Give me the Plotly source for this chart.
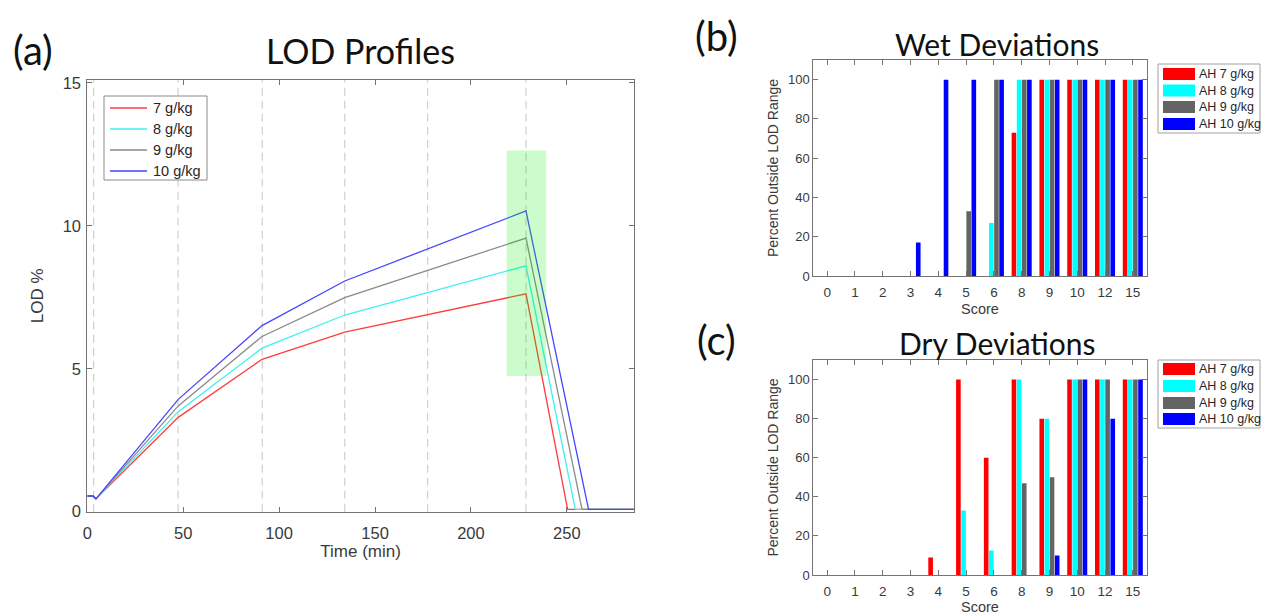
import plotly.graph_objects as go

# ---------------- data ----------------
# LOD profiles (time in minutes, LOD in %)
humidity = ["7 g/kg", "8 g/kg", "9 g/kg", "10 g/kg"]

time_7 = [0, 3, 4.5, 47.4, 91.1, 134.2, 228.7, 250.4, 285]
time_8 = [0, 3, 4.5, 47.4, 91.1, 134.2, 228.7, 254.4, 285]
time_9 = [0, 3, 4.5, 47.4, 91.1, 134.2, 228.7, 257.9, 285]
time_10 = [0, 3, 4.5, 47.4, 91.1, 134.2, 228.7, 261.3, 285]

lod_7 = [0.55, 0.55, 0.45, 3.30, 5.33, 6.28, 7.62, 0.08, 0.08]
lod_8 = [0.55, 0.55, 0.45, 3.50, 5.72, 6.88, 8.60, 0.08, 0.08]
lod_9 = [0.55, 0.55, 0.45, 3.70, 6.13, 7.49, 9.57, 0.08, 0.08]
lod_10 = [0.55, 0.55, 0.45, 3.93, 6.51, 8.07, 10.52, 0.08, 0.08]

# phase boundaries (dashed lines) and highlighted window
phase_times = [3.3, 47.3, 91.2, 134.2, 177.4, 228.7]
window_t = [218.6, 239.2]
window_lod = [4.75, 12.63]

# deviation scores
scores = ["0", "1", "2", "3", "4", "5", "6", "8", "9", "10", "12", "15"]
ah_labels = ["AH 7 g/kg", "AH 8 g/kg", "AH 9 g/kg", "AH 10 g/kg"]

wet_7 = [0, 0, 0, 0, 0, 0, 0, 73, 100, 100, 100, 100]
wet_8 = [0, 0, 0, 0, 0, 0, 27, 100, 100, 100, 100, 100]
wet_9 = [0, 0, 0, 0, 0, 33, 100, 100, 100, 100, 100, 100]
wet_10 = [0, 0, 0, 17, 100, 100, 100, 100, 100, 100, 100, 100]

dry_7 = [0, 0, 0, 0, 9, 100, 60, 100, 80, 100, 100, 100]
dry_8 = [0, 0, 0, 0, 0, 33, 12.5, 100, 80, 100, 100, 100]
dry_9 = [0, 0, 0, 0, 0, 0, 0, 47, 50, 100, 100, 100]
dry_10 = [0, 0, 0, 0, 0, 0, 0, 0, 10, 100, 80, 100]

# ---------------- styling ----------------
W, H = 1261, 615
line_colors = ["#ff3c3c", "#3cf0f0", "#8a8a8a", "#4646ff"]
bar_colors = ["#ff0000", "#00ffff", "#646464", "#0000ff"]
AXIS = "#737373"
TXT = "#3a3a3a"
SANS = "Liberation Sans, Arial, sans-serif"
TITLE_FONT = "Lato, Open Sans, sans-serif"


def px_x(p):
    return p / W


def px_y(p):
    return 1 - p / H


fig = go.Figure()

# LOD profile lines
for t, v, name, col in zip([time_7, time_8, time_9, time_10],
                           [lod_7, lod_8, lod_9, lod_10],
                           humidity, line_colors):
    fig.add_trace(go.Scatter(x=t, y=v, mode="lines", name=name,
                             line=dict(color=col, width=1.3),
                             xaxis="x", yaxis="y", showlegend=False))

# grouped bars: wet and dry deviations
for vals, name, col in zip([wet_7, wet_8, wet_9, wet_10], ah_labels, bar_colors):
    fig.add_trace(go.Bar(x=scores, y=vals, name=name, marker_color=col,
                         marker_line_width=0, xaxis="x2", yaxis="y2",
                         showlegend=False))
for vals, name, col in zip([dry_7, dry_8, dry_9, dry_10], ah_labels, bar_colors):
    fig.add_trace(go.Bar(x=scores, y=vals, name=name, marker_color=col,
                         marker_line_width=0, xaxis="x3", yaxis="y3",
                         showlegend=False))

shapes = []
# dashed phase lines
for t in phase_times:
    shapes.append(dict(type="line", xref="x", yref="y domain", x0=t, x1=t,
                       y0=0, y1=1, layer="below",
                       line=dict(color="#cfcfcf", width=1.2, dash="8px,5px")))
# highlighted window (semi-transparent, on top of the lines)
shapes.append(dict(type="rect", xref="x", yref="y",
                   x0=window_t[0], x1=window_t[1],
                   y0=window_lod[0], y1=window_lod[1],
                   fillcolor="rgba(0,240,0,0.2)", line=dict(width=0),
                   layer="above"))

annotations = []


def add_text(text, x, y, size, font=TITLE_FONT, color="#111111",
             xanchor="center"):
    annotations.append(dict(text=text, xref="paper", yref="paper",
                            x=px_x(x), y=px_y(y), showarrow=False,
                            xanchor=xanchor, yanchor="middle",
                            font=dict(family=font, size=size, color=color)))


add_text("(a)", 33, 50, 40)
add_text("LOD Profiles", 360, 50, 34)
add_text("(b)", 716, 36, 40)
add_text("Wet Deviations", 997, 44, 30)
add_text("(c)", 716, 340, 40)
add_text("Dry Deviations", 997, 343, 30)

# legend of the profile panel
shapes.append(dict(type="rect", xref="paper", yref="paper",
                   x0=px_x(104), x1=px_x(207), y0=px_y(180), y1=px_y(96),
                   fillcolor="white", line=dict(color="#8a8a8a", width=1),
                   layer="above"))
for ry, name, col in zip([108, 129, 150, 171], humidity, line_colors):
    shapes.append(dict(type="line", xref="paper", yref="paper",
                       x0=px_x(110), x1=px_x(147), y0=px_y(ry), y1=px_y(ry),
                       line=dict(color=col, width=1.3), layer="above"))
    add_text(name, 151, ry, 14.5, font=SANS, color="#262626", xanchor="left")

# bar legends
for top, bottom, rows in [(64, 133, [74, 90.5, 107, 124]),
                          (360, 428, [369, 386, 403, 419])]:
    shapes.append(dict(type="rect", xref="paper", yref="paper",
                       x0=px_x(1158), x1=px_x(1260), y0=px_y(bottom), y1=px_y(top),
                       fillcolor="white", line=dict(color="#a0a0a0", width=1)))
    for ry, name, col in zip(rows, ah_labels, bar_colors):
        shapes.append(dict(type="rect", xref="paper", yref="paper",
                           x0=px_x(1163), x1=px_x(1195),
                           y0=px_y(ry + 6), y1=px_y(ry - 6),
                           fillcolor=col, line=dict(width=0)))
        add_text(name, 1197, ry, 12.5, font=SANS, color="#262626",
                 xanchor="left")


def axis_style(**kw):
    d = dict(showline=True, linecolor=AXIS, linewidth=1, mirror="ticks",
             ticks="inside", ticklen=5, tickcolor=AXIS, showgrid=False,
             zeroline=False, automargin=False,
             tickfont=dict(family=SANS, color=TXT))
    d.update(kw)
    return d


fig.update_layout(
    width=W, height=H, autosize=False,
    margin=dict(l=0, r=0, t=0, b=0),
    paper_bgcolor="white", plot_bgcolor="white",
    barmode="group", bargap=0.26, bargroupgap=0.1,
    shapes=shapes, annotations=annotations,
    xaxis=axis_style(domain=[px_x(87.3), px_x(634)], range=[0, 285],
                     tickvals=[0, 50, 100, 150, 200, 250],
                     tickfont=dict(family=SANS, color=TXT, size=16.5),
                     ticklabelstandoff=6,
                     title=dict(text="Time (min)", standoff=4,
                                font=dict(family=SANS, color=TXT, size=17))),
    yaxis=axis_style(domain=[px_y(511.7), px_y(80)], range=[0, 15.1],
                     tickvals=[0, 5, 10, 15],
                     tickfont=dict(family=SANS, color=TXT, size=16.5),
                     ticklabelstandoff=2,
                     title=dict(text="LOD %", standoff=14,
                                font=dict(family=SANS, color=TXT, size=17))),
    xaxis2=axis_style(domain=[px_x(813.3), px_x(1146.7)], anchor="y2",
                      range=[-0.5, 11.5],
                      tickfont=dict(family=SANS, color=TXT, size=13.5),
                      ticklabelstandoff=4,
                      title=dict(text="Score", standoff=4,
                                 font=dict(family=SANS, color=TXT, size=14.5))),
    yaxis2=axis_style(domain=[px_y(276), px_y(60)], anchor="x2", range=[0, 110],
                      tickvals=[0, 20, 40, 60, 80, 100],
                      tickfont=dict(family=SANS, color=TXT, size=13),
                      title=dict(text="Percent Outside LOD Range", standoff=6,
                                 font=dict(family=SANS, color=TXT, size=14))),
    xaxis3=axis_style(domain=[px_x(813.3), px_x(1146.7)], anchor="y3",
                      range=[-0.5, 11.5],
                      tickfont=dict(family=SANS, color=TXT, size=13.5),
                      ticklabelstandoff=4,
                      title=dict(text="Score", standoff=2,
                                 font=dict(family=SANS, color=TXT, size=14.5))),
    yaxis3=axis_style(domain=[px_y(575), px_y(360)], anchor="x3", range=[0, 110],
                      tickvals=[0, 20, 40, 60, 80, 100],
                      tickfont=dict(family=SANS, color=TXT, size=13),
                      title=dict(text="Percent Outside LOD Range", standoff=6,
                                 font=dict(family=SANS, color=TXT, size=14))),
)

fig.write_html("out.html")
